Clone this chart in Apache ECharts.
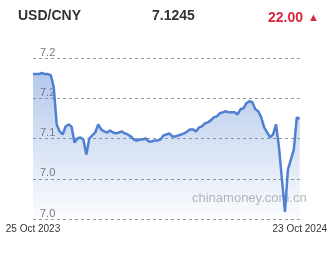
<!DOCTYPE html>
<html>
<head>
<meta charset="utf-8"/>
<title>USD/CNY</title>
<script src="https://cdn.jsdelivr.net/npm/echarts@6/dist/echarts.min.js"></script>
<style>
body{margin:0;background:#fff}
#main{width:330px;height:255px}
</style>
</head>
<body>
<div id="main"></div>
<script>
// values, roughly every 4 days
var pairName = 'USD/CNY';
var lastRate = '7.1245';
var change = '22.00';
var startDate = '2023-10-25';
var endDate = '2024-10-23';
var yTicks = [7.0, 7.2, 0.05]; // min, max, step
var rates = [
    7.1800, 7.1800, 7.1800, 7.1813, 7.1800, 7.1800, 7.1788, 7.1638, 7.1175, 7.1088,
    7.1050, 7.1150, 7.1175, 7.1150, 7.0950, 7.1000, 7.1013, 7.0988, 7.0800, 7.1000,
    7.1038, 7.1075, 7.1175, 7.1113, 7.1088, 7.1075, 7.1100, 7.1075, 7.1063, 7.1075,
    7.1088, 7.1063, 7.1050, 7.1025, 7.0988, 7.0975, 7.0988, 7.0988, 7.1000, 7.0963,
    7.0963, 7.0975, 7.0975, 7.0988, 7.1038, 7.1050, 7.1063, 7.1025, 7.1025, 7.1038,
    7.1050, 7.1063, 7.1088, 7.1113, 7.1113, 7.1088, 7.1138, 7.1150, 7.1188, 7.1200,
    7.1225, 7.1263, 7.1275, 7.1313, 7.1325, 7.1338, 7.1325, 7.1325, 7.1325, 7.1300,
    7.1363, 7.1375, 7.1438, 7.1463, 7.1450, 7.1363, 7.1338, 7.1263, 7.1138, 7.1075,
    7.1013, 7.1050, 7.1175, 7.0888, 7.0488, 7.0088, 7.0613, 7.0738, 7.0863, 7.1263,
    7.1245
];

var months = ['Jan','Feb','Mar','Apr','May','Jun','Jul','Aug','Sep','Oct','Nov','Dec'];
function fmtDate(d){
    return d.getUTCDate() + ' ' + months[d.getUTCMonth()] + ' ' + d.getUTCFullYear();
}
// category labels: dates spread evenly between the two ends
var t0 = Date.parse(startDate + 'T00:00:00Z');
var t1 = Date.parse(endDate + 'T00:00:00Z');
var days = [];
for(var i=0;i<rates.length;i++){
    var t = t0 + Math.round(i*(t1-t0)/(rates.length-1)/86400000)*86400000;
    days.push(fmtDate(new Date(t)));
}

var myChart = echarts.init(document.getElementById('main'));
var font = '"Liberation Sans", Arial, sans-serif';
var option = {
    animation: false,
    title: [
        {text: pairName, left: 18, top: 9, padding: 0,
         textStyle: {fontSize: 14, fontWeight: 'bold', color: '#333', fontFamily: font}},
        {text: lastRate, left: 152, top: 9, padding: 0,
         textStyle: {fontSize: 14, fontWeight: 'bold', color: '#333', fontFamily: font}},
        {text: '{v|' + change + '} {t|▲}', left: 268, top: 9, padding: 0,
         textStyle: {rich: {
            v: {fontSize: 14, fontWeight: 'bold', color: '#d7263d', fontFamily: font},
            t: {fontSize: 11, color: '#d7263d', fontFamily: font}
         }}}
    ],
    graphic: [{
        type: 'text', left: 192, top: 192, z: 0,
        style: {text: 'chinamoney.com.cn', fill: '#b8b8b8', font: '13px ' + font}
    }],
    grid: {left: 33, right: 27, top: 58, bottom: 36},
    xAxis: {
        type: 'category',
        data: days,
        boundaryGap: false,
        axisLine: {show: false},
        axisTick: {show: false},
        axisLabel: {
            interval: function(idx){ return idx === 0 || idx === days.length-1; },
            color: '#333', fontSize: 10, fontFamily: font, margin: 5,
            showMinLabel: true, showMaxLabel: true
        },
        splitLine: {show: false}
    },
    yAxis: {
        type: 'value',
        min: yTicks[0], max: yTicks[1], interval: yTicks[2],
        axisLine: {show: false},
        axisTick: {show: false},
        axisLabel: {
            inside: true, margin: 7, verticalAlign: 'bottom',
            color: '#777', fontSize: 11, fontFamily: font,
            formatter: function(v){ return v.toFixed(1); }
        },
        splitLine: {lineStyle: {color: '#999', type: [3, 3], width: 1}}
    },
    series: [{
        type: 'line',
        data: rates,
        symbol: 'none',
        lineStyle: {color: '#4f80d2', width: 2.5},
        areaStyle: {
            color: new echarts.graphic.LinearGradient(0, 0, 0, 1, [
                {offset: 0, color: 'rgba(79,127,208,0.6)'},
                {offset: 1, color: 'rgba(79,127,208,0.03)'}
            ])
        }
    }]
};
myChart.setOption(option);
</script>
</body>
</html>
